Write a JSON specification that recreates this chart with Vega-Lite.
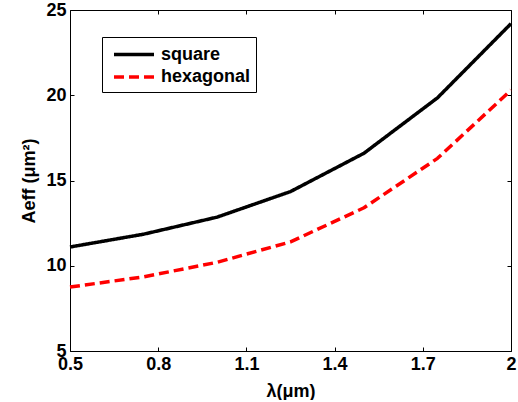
{
  "$schema": "https://vega.github.io/schema/vega-lite/v6.json",
  "width": 441,
  "height": 341,
  "padding": {"left": 20, "top": 1, "right": 5, "bottom": 0},
  "background": "white",
  "config": {
    "view": {"stroke": null},
    "font": "Liberation Sans",
    "axis": {
      "domainColor": "black",
      "domainWidth": 1,
      "tickColor": "black",
      "tickWidth": 1,
      "tickSize": -4,
      "grid": false,
      "labelFont": "Liberation Sans",
      "labelFontSize": 18,
      "labelFontWeight": "bold",
      "labelColor": "black",
      "titleFont": "Liberation Sans",
      "titleFontSize": 18,
      "titleFontWeight": "bold",
      "titleColor": "black"
    },
    "legend": {
      "title": null, "orient": "none", "legendX": 32, "legendY": 27,
      "strokeColor": "black", "fillColor": "white", "padding": 5.5,
      "symbolType": "M-2,0H2", "symbolStrokeWidth": 3.5, "symbolSize": 400, "symbolOffset": 14.5,
      "labelFont": "Liberation Sans", "labelFontSize": 18, "labelFontWeight": "bold", "labelColor": "black",
      "labelOffset": 15, "rowPadding": 1.5
    }
  },
  "data": {
    "values": [
      {"lambda": 0.5, "Aeff": 11.1, "structure": "square"},
      {"lambda": 0.75, "Aeff": 11.85, "structure": "square"},
      {"lambda": 1.0, "Aeff": 12.85, "structure": "square"},
      {"lambda": 1.25, "Aeff": 14.35, "structure": "square"},
      {"lambda": 1.5, "Aeff": 16.6, "structure": "square"},
      {"lambda": 1.75, "Aeff": 19.85, "structure": "square"},
      {"lambda": 2.0, "Aeff": 24.2, "structure": "square"},
      {"lambda": 0.5, "Aeff": 8.75, "structure": "hexagonal"},
      {"lambda": 0.75, "Aeff": 9.35, "structure": "hexagonal"},
      {"lambda": 1.0, "Aeff": 10.2, "structure": "hexagonal"},
      {"lambda": 1.25, "Aeff": 11.4, "structure": "hexagonal"},
      {"lambda": 1.5, "Aeff": 13.4, "structure": "hexagonal"},
      {"lambda": 1.75, "Aeff": 16.3, "structure": "hexagonal"},
      {"lambda": 2.0, "Aeff": 20.3, "structure": "hexagonal"}
    ]
  },
  "layer": [
    {
      "mark": {"type": "line", "opacity": 0},
      "encoding": {
        "x": {
          "field": "lambda", "type": "quantitative",
          "scale": {"domain": [0.5, 2], "nice": false, "zero": false},
          "axis": {"orient": "top", "labels": false, "title": null, "values": [0.5, 0.8, 1.1, 1.4, 1.7, 2]}
        },
        "y": {
          "field": "Aeff", "type": "quantitative",
          "scale": {"domain": [5, 25], "nice": false, "zero": false},
          "axis": {"orient": "right", "labels": false, "title": null, "values": [5, 10, 15, 20, 25]}
        },
        "detail": {"field": "structure", "type": "nominal"}
      }
    },
    {
      "mark": {"type": "line", "strokeWidth": 3.5, "strokeCap": "butt", "strokeJoin": "round"},
      "encoding": {
        "x": {
          "field": "lambda", "type": "quantitative",
          "scale": {"domain": [0.5, 2], "nice": false, "zero": false},
          "axis": {"orient": "bottom", "title": "λ(μm)", "values": [0.5, 0.8, 1.1, 1.4, 1.7, 2], "format": "~g", "labelPadding": 8, "titleY": 40, "titleBaseline": "middle", "labelFlush": false}
        },
        "y": {
          "field": "Aeff", "type": "quantitative",
          "scale": {"domain": [5, 25], "nice": false, "zero": false},
          "axis": {"orient": "left", "title": "Aeff (μm²)", "values": [5, 10, 15, 20, 25], "labelPadding": 8, "titleX": -41, "titleBaseline": "middle"}
        },
        "color": {
          "field": "structure", "type": "nominal",
          "scale": {"domain": ["square", "hexagonal"], "range": ["#000000", "#ff0000"]},
          "legend": {"title": null}
        },
        "strokeDash": {
          "field": "structure", "type": "nominal",
          "scale": {"domain": ["square", "hexagonal"], "range": [[1, 0], [10, 5]]},
          "legend": {"title": null}
        }
      }
    }
  ],
  "resolve": {"axis": {"x": "independent", "y": "independent"}}
}
